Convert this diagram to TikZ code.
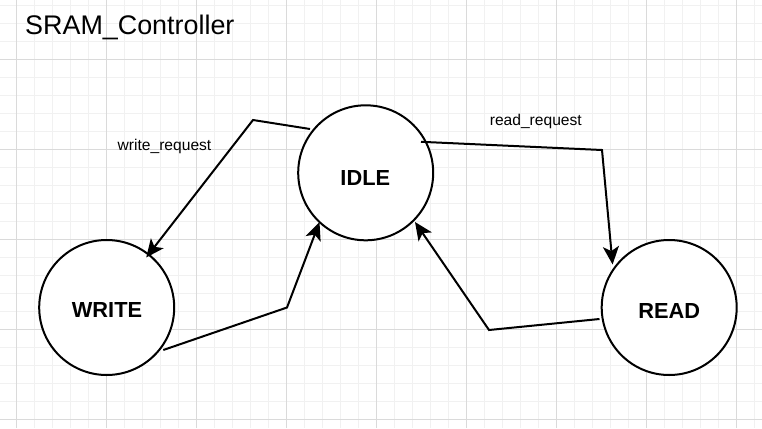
\documentclass[tikz,border=0pt]{standalone}
\usepackage{fontspec}
\setmainfont{Liberation Sans}
\usetikzlibrary{arrows.meta,calc}
\definecolor{gridminor}{RGB}{241,241,241}
\definecolor{gridmajor}{RGB}{218,218,218}
\tikzset{
  state/.style={circle,draw=black,line width=2pt,fill=white,minimum size=135pt,inner sep=0pt},
  statetext/.style={font=\fontsize{21.8pt}{24pt}\selectfont\bfseries,anchor=base,inner sep=0pt},
  edgelabel/.style={font=\fontsize{15.6pt}{18pt}\selectfont,anchor=base,inner sep=0pt},
  conn/.style={line width=2pt,line join=miter,-{Stealth[length=18pt,width=16pt,inset=4.5pt]}},
}
\begin{document}
\begin{tikzpicture}[x=1pt,y=-1pt]
\useasboundingbox (0,0) rectangle (762,428);
\fill[white] (0,0) rectangle (762,428);
% grid
\foreach \i in {0,...,41} {
  \draw[gridminor,line width=1pt] (16.7+18*\i,0) -- (16.7+18*\i,428);
}
\foreach \i in {0,...,23} {
  \draw[gridminor,line width=1pt] (0,5.3+18*\i) -- (762,5.3+18*\i);
}
\foreach \i in {0,...,8} {
  \draw[gridmajor,line width=1pt] (16.7+90*\i,0) -- (16.7+90*\i,428);
}
\foreach \i in {0,...,4} {
  \draw[gridmajor,line width=1pt] (0,59.3+90*\i) -- (762,59.3+90*\i);
}
% title
\node[font=\fontsize{26.9pt}{30pt}\selectfont,anchor=base west,inner sep=0pt] (title) at (25,35) {SRAM\_Controller};
% states
\node[state] (IDLE) at (365.7,172.8) {};
\node[state] (WRITE) at (106.7,307.5) {};
\node[state] (READ) at (669.2,307.5) {};
\node[statetext] (IDLEt) at (365.3,185.7) {IDLE};
\node[statetext] (WRITEt) at (107,317.3) {WRITE};
\node[statetext] (READt) at (669.2,318.3) {READ};
% connectors
\draw[conn] ($(IDLE.center)+(-55.7,-43.8)$) -- (253,120) -- ($(WRITE.center)+(39.5,-50)$);
\draw[conn] ($(WRITE.center)+(56.6,42.5)$) -- (287,307.5) -- ($(IDLE.center)+(-46.2,49.2)$);
\draw[conn] ($(IDLE.center)+(55.3,-31)$) -- (602,150) -- ($(READ.center)+(-56.6,-43)$);
\draw[conn] ($(READ.center)+(-69.7,11.5)$) -- (489,330) -- ($(IDLE.center)+(49.3,49.2)$);
% labels
\node[edgelabel] (wr) at (164.5,150) {write\_request};
\node[edgelabel] (rr) at (535.8,125.5) {read\_request};
\end{tikzpicture}
\end{document}
